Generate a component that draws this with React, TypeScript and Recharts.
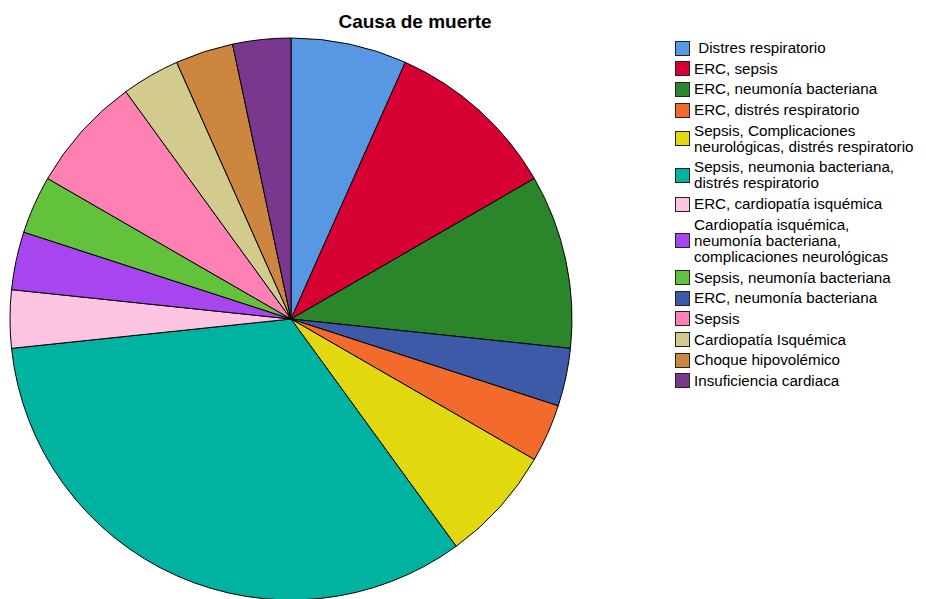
import React from "react";
import { PieChart, Pie, Cell } from "recharts";

const causes = [
  "Distres respiratorio",
  "ERC, sepsis",
  "ERC, neumonía bacteriana",
  "ERC, neumonía bacteriana ",
  "ERC, distrés respiratorio",
  "Sepsis, Complicaciones neurológicas, distrés respiratorio",
  "Sepsis, neumonia bacteriana, distrés respiratorio",
  "ERC, cardiopatía isquémica",
  "Cardiopatía isquémica, neumonía bacteriana, complicaciones neurológicas",
  "Sepsis, neumonía bacteriana",
  "Sepsis",
  "Cardiopatía Isquémica",
  "Choque hipovolémico",
  "Insuficiencia cardiaca",
];
const counts = [2, 3, 3, 1, 1, 2, 10, 1, 1, 1, 2, 1, 1, 1];
const colors = [
  "#5898E3",
  "#D60033",
  "#2B862B",
  "#3C5AA8",
  "#F26A2C",
  "#E2D80F",
  "#00B2A0",
  "#FDC4E1",
  "#A745EE",
  "#63C23C",
  "#FF80B2",
  "#D3CA8E",
  "#CC8640",
  "#7A378E",
];
// legend order and line breaks as in the reference
const legendOrder = [0, 1, 2, 4, 5, 6, 7, 8, 9, 3, 10, 11, 12, 13];
const legendLines: string[][] = [
  [" Distres respiratorio"],
  ["ERC, sepsis"],
  ["ERC, neumonía bacteriana"],
  ["ERC, neumonía bacteriana"],
  ["ERC, distrés respiratorio"],
  ["Sepsis, Complicaciones", "neurológicas, distrés respiratorio"],
  ["Sepsis, neumonia bacteriana,", "distrés respiratorio"],
  ["ERC, cardiopatía isquémica"],
  ["Cardiopatía isquémica,", "neumonía bacteriana,", "complicaciones neurológicas"],
  ["Sepsis, neumonía bacteriana"],
  ["Sepsis"],
  ["Cardiopatía Isquémica"],
  ["Choque hipovolémico"],
  ["Insuficiencia cardiaca"],
];

const data = causes.map((name, i) => ({ name, value: counts[i] }));

const FONT = '"Liberation Sans", Arial, sans-serif';

function CustomLegend() {
  return (
    <div style={{ display: "flex", flexDirection: "column", gap: 4.7, fontFamily: FONT, fontSize: 15.2, color: "#000" }}>
      {legendOrder.map((idx) => (
        <div key={idx} style={{ display: "flex", alignItems: "center" }}>
          <div
            style={{
              width: 13,
              height: 13,
              background: colors[idx],
              border: "1px solid #222",
              marginRight: 4,
              flexShrink: 0,
            }}
          />
          <div style={{ lineHeight: "16px", whiteSpace: "pre" }}>
            {legendLines[idx].map((l, k) => (
              <div key={k}>{l}</div>
            ))}
          </div>
        </div>
      ))}
    </div>
  );
}

export default function App() {
  return (
    <div style={{ position: "relative", width: 918, height: 591 }}>
      <div
        style={{
          position: "absolute",
          left: 257,
          top: 3,
          width: 300,
          textAlign: "center",
          fontFamily: FONT,
          fontWeight: "bold",
          fontSize: 19,
          zIndex: 2,
        }}
      >
        Causa de muerte
      </div>
      <div style={{ position: "absolute", left: 667, top: 32, width: 250, zIndex: 2 }}>
        <CustomLegend />
      </div>
      <PieChart width={918} height={591}>
        <Pie
          data={data}
          dataKey="value"
          nameKey="name"
          cx={278}
          cy={306}
          outerRadius={281}
          startAngle={90}
          endAngle={-270}
          stroke="#000"
          strokeWidth={1}
          isAnimationActive={false}
        >
          {data.map((d, i) => (
            <Cell key={i} fill={colors[i]} />
          ))}
        </Pie>
      </PieChart>
    </div>
  );
}
